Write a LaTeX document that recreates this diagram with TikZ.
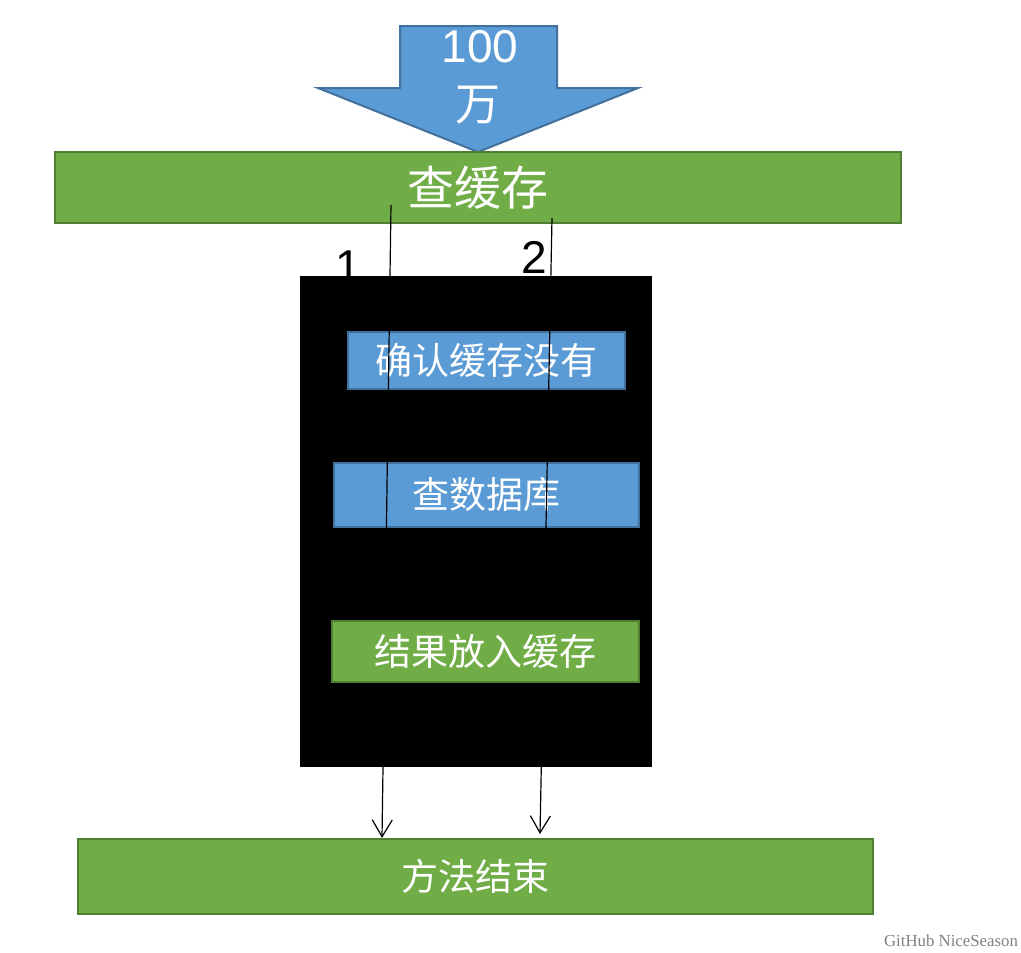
\documentclass[tikz,border=0pt]{standalone}
\usepackage{fontspec}
\setmainfont{Liberation Sans}
\newfontfamily\cjk{Noto Sans CJK SC}
\newfontfamily\wmfont{Liberation Serif}
\usetikzlibrary{arrows.meta}
\definecolor{gfill}{HTML}{70AD47}
\definecolor{gline}{HTML}{507E32}
\definecolor{bfill}{HTML}{5B9BD5}
\definecolor{bline}{HTML}{41719C}
\tikzset{
  greenbar/.style={draw=gline, fill=gfill, line width=2.5pt, inner sep=0pt, text=white},
  bluebar/.style={draw=bline, fill=bfill, line width=2pt, inner sep=0pt, text=white},
  cjktext/.style={font=\cjk\fontsize{37}{40}\selectfont},
  flow/.style={line width=1.2pt, -{Straight Barb[length=17pt,width=20pt,line width=1.2pt]}},
}
\begin{document}
\begin{tikzpicture}[x=1pt,y=-1pt]
\useasboundingbox (0,0) rectangle (1021,953);
% big arrow
\draw[fill=bfill, draw=bline, line width=2pt, line join=miter]
  (400,26) -- (557,26) -- (557,88) -- (638,88) -- (478,152) -- (318,88) -- (400,88) -- cycle;
\node[anchor=base, text=white, font=\fontsize{46}{50}\selectfont] (hundred) at (480,62) {100};
\node[anchor=center, text=white, font=\cjk\fontsize{45}{48}\selectfont] (wan) at (478,105) {万};
% top bar
\node[greenbar, minimum width=846pt, minimum height=71pt, cjktext, font=\cjk\fontsize{47}{50}\selectfont] (cache) at (478,187.5) {查缓存};
% black box
\node[fill=black, draw=black, minimum width=351pt, minimum height=490pt, inner sep=0pt] (sync) at (475.5,521) {};
% blue boxes
\node[bluebar, minimum width=277pt, minimum height=57pt, cjktext] (check) at (486.5,360.5) {确认缓存没有};
\node[bluebar, minimum width=305pt, minimum height=64pt, cjktext] (db) at (486.5,495) {查数据库};
% flow lines
\coordinate (s1) at (391,205);
\coordinate (e1) at (382,838);
\coordinate (s2) at (552,218);
\coordinate (e2) at (540,834);
\draw[flow] (s1) -- (e1);
\draw[flow] (s2) -- (e2);
% green inner box
\node[greenbar, line width=2pt, minimum width=307pt, minimum height=61pt, cjktext] (put) at (485.5,651.5) {结果放入缓存};
% bottom bar
\node[greenbar, minimum width=795pt, minimum height=75pt, cjktext] (finish) at (475.5,876.5) {方法结束};
% labels
\node[anchor=base, font=\fontsize{46}{50}\selectfont] (one) at (348,282) {1};
\node[anchor=base, font=\fontsize{46}{50}\selectfont] (two) at (534,273) {2};
% watermark
\node[anchor=center, text=black!50, font=\wmfont\fontsize{16.8}{18}\selectfont] (wm) at (951,941) {GitHub NiceSeason};
\end{tikzpicture}
\end{document}
